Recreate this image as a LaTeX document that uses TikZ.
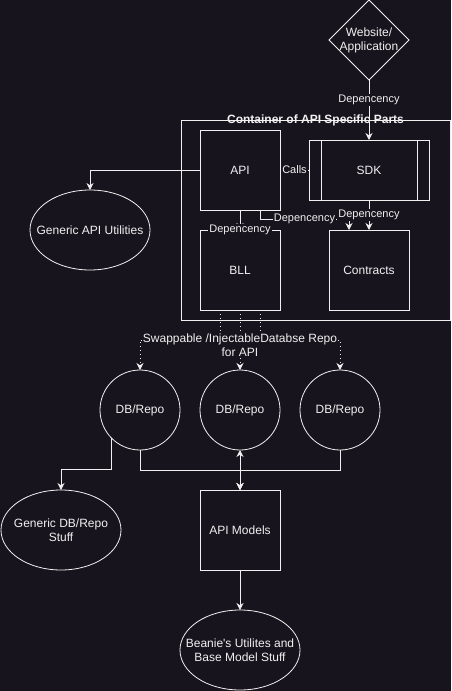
\documentclass[tikz,border=0pt]{standalone}
\usepackage{fontspec}
\setmainfont{Liberation Sans}
\usetikzlibrary{positioning, shapes.geometric, arrows.meta}
\definecolor{canvasBg}{RGB}{24,20,29}
\definecolor{inkWhite}{RGB}{240,240,240}
\tikzstyle{DiagramBox}=[rectangle, draw=inkWhite, fill=canvasBg, line width=1pt, minimum width=80pt, minimum height=80pt, outer sep=0pt, text=inkWhite, align=center, font=\fontsize{12}{14}\selectfont]
\tikzstyle{SdkBox}=[DiagramBox, minimum width=120pt, minimum height=60pt, path picture={
	\draw[inkWhite, line width=1pt] ([xshift=12pt]path picture bounding box.north west) -- ([xshift=12pt]path picture bounding box.south west);
	\draw[inkWhite, line width=1pt] ([xshift=-12pt]path picture bounding box.north east) -- ([xshift=-12pt]path picture bounding box.south east);}]
\tikzstyle{OvalNode}=[ellipse, draw=inkWhite, fill=canvasBg, line width=0.8pt, minimum width=120pt, minimum height=80pt, inner xsep=-15pt, inner ysep=0pt, outer sep=0pt, text=inkWhite, align=center, font=\fontsize{12}{14}\selectfont]
\tikzstyle{RoundNode}=[circle, draw=inkWhite, fill=canvasBg, line width=0.8pt, minimum size=80pt, inner sep=0pt, outer sep=0pt, text=inkWhite, font=\fontsize{12}{14}\selectfont]
\tikzstyle{DiamondNode}=[diamond, draw=inkWhite, fill=canvasBg, line width=1pt, minimum width=80pt, minimum height=80pt, inner sep=-3pt, outer sep=0pt, text=inkWhite, align=center, font=\fontsize{12}{14}\selectfont]
\tikzstyle{GroupBox}=[rectangle, draw=inkWhite, line width=1pt, minimum width=269pt, minimum height=200pt, outer sep=0pt]
\tikzstyle{GroupTitle}=[text=inkWhite, inner sep=0pt, font=\bfseries\fontsize{12}{14}\selectfont]
\tikzstyle{EdgeLabel}=[fill=canvasBg, text=inkWhite, inner sep=1pt, align=center, font=\fontsize{11}{13}\selectfont]
\tikzstyle{DepArrow}=[draw=inkWhite, line width=1pt, -{Stealth[length=7pt,width=7pt]}]
\tikzstyle{BothArrow}=[draw=inkWhite, line width=1pt, {Stealth[length=7pt,width=7pt]}-{Stealth[length=7pt,width=7pt]}]
\tikzstyle{SwapArrow}=[DepArrow, dash pattern=on 1pt off 3pt]
\tikzstyle{PlainLink}=[draw=inkWhite, line width=1pt]

\begin{document}
\begin{tikzpicture}[x=1pt, y=1pt]
			%Fondo
			\fill[canvasBg] (0,0) rectangle (451,-691);
			\useasboundingbox (0,0) rectangle (451,-691);

			%Nodos
			\node[GroupBox]		(container)									at (315.5,-220)		{};
			\node[GroupTitle]	(container_title)							at (container.north)	{Container of API Specific Parts};

			\node[DiagramBox]	(api)										at (240,-170)		{API};
			\node[SdkBox]		(sdk)			[right=29pt of api]							{SDK};
			\node[DiagramBox]	(bll)			[below=20pt of api]							{BLL};
			\node[DiagramBox]	(contracts)		[below=30pt of sdk]							{Contracts};
			\node[DiamondNode]	(website)		[above=60pt of sdk]							{Website/\\Application};
			\node[OvalNode]		(api_utils)									at (90,-230)		{Generic API Utilities};

			\node[RoundNode]	(db_mid)		[below=60pt of bll]							{DB/Repo};
			\node[RoundNode]	(db_left)		[left=20pt of db_mid]						{DB/Repo};
			\node[RoundNode]	(db_right)		[right=20pt of db_mid]						{DB/Repo};
			\node[DiagramBox]	(api_models)	[below=40pt of db_mid]						{API Models};
			\node[OvalNode]		(db_generic)	[left=79pt of api_models]					{Generic DB/Repo\\Stuff};
			\node[OvalNode]		(beanie)		[below=40pt of api_models]					{Beanie\textquotesingle s Utilites and\\Base Model Stuff};

			%Conexiones
			\draw[DepArrow]		(website) -- node[EdgeLabel, pos=0.33] {Depencency} (sdk);
			\draw[PlainLink]	(api) -- node[EdgeLabel] {Calls} (sdk);
			\draw[DepArrow]		(api) -| (api_utils);
			\draw[DepArrow]		(api) -- node[EdgeLabel, pos=1] {Depencency} (bll);
			\draw[DepArrow]		([xshift=20pt]api.south) -- ++(0,-9) -| node[EdgeLabel, pos=0.25] {Depencency} ([xshift=-20pt]contracts.north);
			\draw[DepArrow]		(sdk) -- node[EdgeLabel] {Depencency} (contracts);

			\draw[SwapArrow]	([xshift=-20pt]bll.south) -- ++(0,-30) -| (db_left);
			\draw[SwapArrow]	([xshift=20pt]bll.south) -- ++(0,-30) -| (db_right);
			\draw[SwapArrow]	(bll) -- node[EdgeLabel, pos=0.58, font=\fontsize{12}{14}\selectfont] {Swappable /InjectableDatabse Repo\\for API} (db_mid);

			\draw[DepArrow]		(db_left.south west) -- ++(0,-31.7) -| (db_generic);
			\draw[DepArrow]		(db_left.south) -- ++(0,-20) -| (api_models);
			\draw[DepArrow]		(db_right.south) -- ++(0,-20) -| (api_models);
			\draw[BothArrow]	(db_mid) -- (api_models);
			\draw[DepArrow]		(api_models) -- (beanie);

		\end{tikzpicture}
\end{document}
